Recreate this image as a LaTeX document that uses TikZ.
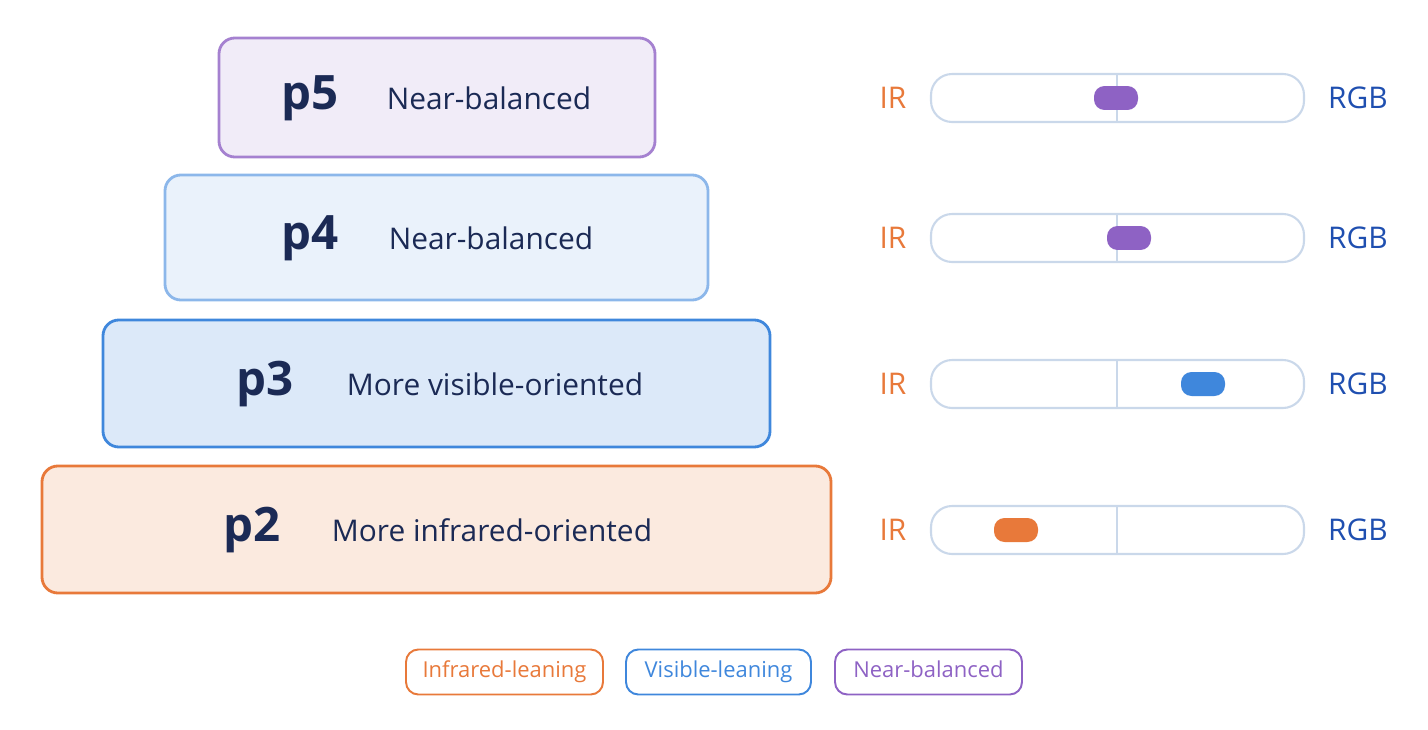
\documentclass[tikz,border=0pt]{standalone}
\usepackage{fontspec}
\setmainfont{Open Sans}
\definecolor{navy}{HTML}{1B2A55}
\definecolor{irorange}{HTML}{E8793A}
\definecolor{rgbblue}{HTML}{1F4FB0}
\definecolor{visblue}{HTML}{3F87DC}
\definecolor{balpurple}{HTML}{8E62C4}
\definecolor{track}{HTML}{CAD8EA}
\tikzset{
  level/.style={draw, line width=1.6pt, rounded corners=9pt, anchor=north west},
  pname/.style={font=\fontsize{27}{30}\selectfont\bfseries, text=navy},
  ptext/.style={font=\fontsize{17}{20}\selectfont, text=navy},
  bar/.style={draw=track, line width=1.2pt, fill=white, rounded corners=12pt},
  knob/.style={rounded corners=6pt, minimum width=0.88cm, minimum height=0.48cm, inner sep=0pt},
  side/.style={font=\fontsize{17}{20}\selectfont},
  legend/.style={draw, line width=1.1pt, rounded corners=7pt, minimum height=0.9cm,
    text height=1.7ex, text depth=0.5ex, font=\fontsize{12.5}{15}\selectfont}
}
\begin{document}
\begin{tikzpicture}[x=0.02cm, y=-0.02cm]
  \useasboundingbox (0,0) rectangle (1428,730);
  % level boxes
  \draw[level, draw=balpurple!80, fill=balpurple!12] (219,38) rectangle (655,157);
  \draw[level, draw=visblue!60, fill=visblue!11] (165,175) rectangle (708,300);
  \draw[level, draw=visblue, fill=visblue!18] (103,320) rectangle (770,447);
  \draw[level, draw=irorange, fill=irorange!16] (42,466) rectangle (831,593);
  \node[pname] (p5) at (310,98) {p5};
  \node[ptext] (t5) at (489,98) {Near-balanced};
  \node[pname] (p4) at (310,238) {p4};
  \node[ptext] (t4) at (491,238) {Near-balanced};
  \node[pname] (p3) at (265,384) {p3};
  \node[ptext] (t3) at (495,384) {More visible-oriented};
  \node[pname] (p2) at (252,530) {p2};
  \node[ptext] (t2) at (492,530) {More infrared-oriented};
  % sliders
  \foreach \y/\k/\c [count=\i] in {98/1116/balpurple, 238/1129/balpurple, 384/1203/visblue, 530/1016/irorange}{
    \draw[bar] (931,\y-24) rectangle (1304,\y+24);
    \draw[track, line width=1.2pt] (1117,\y-24) -- (1117,\y+24);
    \node[knob, fill=\c] (k\i) at (\k,\y) {};
    \node[side, text=irorange] (ir\i) at (893,\y) {IR};
    \node[side, text=rgbblue] (rgb\i) at (1358,\y) {RGB};
  }
  % legend
  \node[legend, draw=irorange, text=irorange, minimum width=3.94cm] (lir) at (504.5,672) {Infrared-leaning};
  \node[legend, draw=visblue, text=visblue, minimum width=3.7cm] (lvis) at (718.5,672) {Visible-leaning};
  \node[legend, draw=balpurple, text=balpurple, minimum width=3.74cm] (lbal) at (928.5,672) {Near-balanced};
\end{tikzpicture}
\end{document}
